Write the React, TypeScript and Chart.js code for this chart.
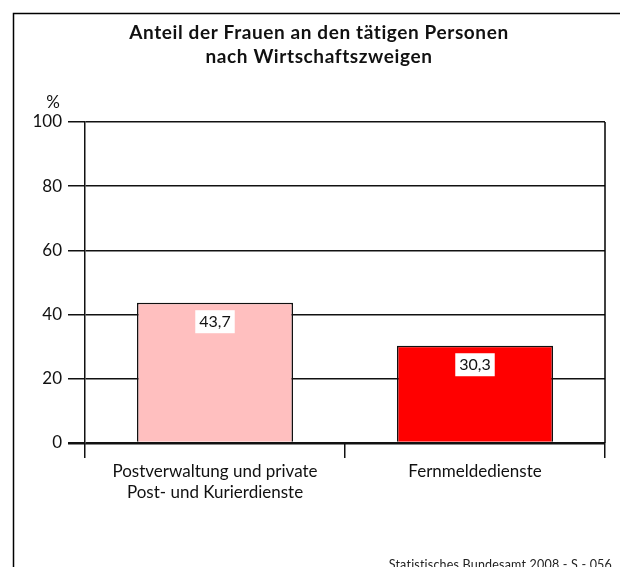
import React, { useEffect, useRef } from "react";
import { Chart, registerables } from "chart.js";

Chart.register(...registerables);

const TITLE_LINES = ["Anteil der Frauen an den tätigen Personen", "nach Wirtschaftszweigen"];
const CATEGORIES = [["Postverwaltung und private", "Post- und Kurierdienste"], ["Fernmeldedienste"]];
const VALUES = [43.7, 30.3];
const VALUE_LABELS = ["43,7", "30,3"];
const BAR_COLORS = ["#ffbfbf", "#ff0000"];
const Y_UNIT = "%";
const SOURCE = "Statistisches Bundesamt 2008 - S - 056";

const FONT = "Lato, sans-serif";

const decor = {
  id: "decor",
  beforeDraw(chart: any) {
    const ctx = chart.ctx;
    ctx.save();
    ctx.fillStyle = "#fff";
    ctx.fillRect(0, 0, chart.width, chart.height);
    ctx.strokeStyle = "#000";
    ctx.lineWidth = 1.5;
    ctx.strokeRect(13.5, 13.5, 700, 700);
    ctx.restore();
  },
  afterDraw(chart: any) {
    const ctx = chart.ctx;
    const area = chart.chartArea;
    ctx.save();
    ctx.strokeStyle = "#000";
    ctx.lineWidth = 1.5;
    ctx.beginPath();
    ctx.moveTo(area.right, area.top);
    ctx.lineTo(area.right, area.bottom);
    ctx.stroke();
    ctx.fillStyle = "#111";
    ctx.textAlign = "center";
    ctx.textBaseline = "middle";
    ctx.font = `bold 19px ${FONT}`;
    (ctx as any).letterSpacing = "0.6px";
    TITLE_LINES.forEach((t, i) => ctx.fillText(t, 319, 33 + i * 24));
    (ctx as any).letterSpacing = "0px";
    ctx.font = `17px ${FONT}`;
    ctx.fillText(Y_UNIT, 53, 103);
    const meta = chart.getDatasetMeta(0);
    meta.data.forEach((bar: any, i: number) => {
      const label = VALUE_LABELS[i];
      ctx.font = `16px ${FONT}`;
      const w = ctx.measureText(label).width + 8;
      const cy = bar.y + 19;
      ctx.fillStyle = "#fff";
      ctx.fillRect(bar.x - w / 2, cy - 11.5, w, 23);
      ctx.fillStyle = "#111";
      ctx.fillText(label, bar.x, cy);
    });
    ctx.font = `12.5px ${FONT}`;
    (ctx as any).letterSpacing = "0.2px";
    ctx.textAlign = "right";
    ctx.fillStyle = "#222";
    ctx.fillText(SOURCE, 612, 565);
    ctx.restore();
  },
};

export default function App() {
  const ref = useRef<HTMLCanvasElement>(null);
  useEffect(() => {
    const chart = new Chart(ref.current!, {
      type: "bar",
      data: {
        labels: CATEGORIES,
        datasets: [
          {
            data: VALUES,
            backgroundColor: BAR_COLORS,
            borderColor: "#111",
            borderWidth: 1.5,
            barPercentage: 0.6,
            categoryPercentage: 1,
          },
        ],
      },
      options: {
        animation: false,
        responsive: false,
        maintainAspectRatio: false,
        layout: { padding: { top: 122, right: 15, left: 0, bottom: 0 } },
        plugins: { legend: { display: false }, tooltip: { enabled: false }, title: { display: false } },
        scales: {
          x: {
            offset: true,
            grid: { offset: true, drawOnChartArea: false, tickLength: 15, color: "#111", lineWidth: 1.5 },
            border: { display: false },
            ticks: { color: "#111", font: { family: FONT, size: 17, lineHeight: 1.25 }, padding: 3, maxRotation: 0 },
            afterFit: (s: any) => { s.height = 124; },
          },
          y: {
            min: 0,
            max: 100,
            ticks: { stepSize: 20, color: "#111", font: { family: FONT, size: 17 }, padding: 6 },
            grid: {
              color: "#111",
              lineWidth: (c: any) => (c.tick && c.tick.value === 0 ? 2.5 : 1.5),
              tickLength: 17,
            },
            border: { display: true, color: "#111", width: 1.5 },
            afterFit: (s: any) => { s.width = 85; },
          },
        },
      },
      plugins: [decor],
    });
    return () => chart.destroy();
  }, []);
  return (
    <div style={{ position: "fixed", left: 0, top: 0, width: 620, height: 567 }}>
      <canvas ref={ref} width={620} height={567} style={{ width: 620, height: 567 }} />
    </div>
  );
}
